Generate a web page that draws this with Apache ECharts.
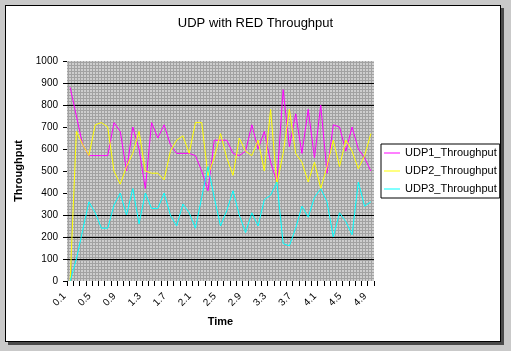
<!DOCTYPE html>
<html>
<head>
<meta charset="utf-8">
<title>UDP with RED Throughput</title>
<script src="https://cdn.jsdelivr.net/npm/echarts@6/dist/echarts.min.js"></script>
<style>
  html, body { margin: 0; padding: 0; }
  body { width: 511px; height: 351px; background: #c9c9c9; position: relative; overflow: hidden; }
  #frame { position: absolute; left: 5px; top: 5px; width: 494px; height: 335px; background: #fff; border: 1px solid #000; box-shadow: 3px 3px 0 #4a4a4a; }
  #chart { position: absolute; left: 0; top: 0; width: 511px; height: 351px; }
</style>
</head>
<body>
<div id="frame"></div>
<div id="chart"></div>
<script>
// Data
const timeLabels = ['0.1','0.2','0.3','0.4','0.5','0.6','0.7','0.8','0.9','1.0',
    '1.1','1.2','1.3','1.4','1.5','1.6','1.7','1.8','1.9','2.0',
    '2.1','2.2','2.3','2.4','2.5','2.6','2.7','2.8','2.9','3.0',
    '3.1','3.2','3.3','3.4','3.5','3.6','3.7','3.8','3.9','4.0',
    '4.1','4.2','4.3','4.4','4.5','4.6','4.7','4.8','4.9'];

const udp1 = [880, 750, 620, 570, 570, 570, 570, 720, 680, 500,
    700, 600, 420, 720, 650, 710, 620, 580, 580, 580,
    570, 500, 410, 640, 640, 640, 580, 570, 590, 710,
    600, 680, 540, 450, 870, 610, 760, 580, 780, 560,
    800, 490, 710, 700, 590, 700, 600, 560, 500];

const udp2 = [0, 680, 620, 570, 710, 720, 700, 500, 440, 520,
    580, 680, 500, 490, 490, 460, 590, 640, 660, 580,
    720, 720, 480, 560, 670, 560, 480, 650, 590, 570,
    640, 500, 780, 440, 580, 780, 580, 540, 450, 540,
    420, 520, 640, 520, 640, 590, 510, 570, 670];

const udp3 = [0, 100, 230, 360, 310, 240, 240, 345, 400, 300,
    420, 260, 400, 330, 330, 400, 300, 250, 350, 310,
    240, 380, 520, 380, 250, 320, 410, 300, 220, 310,
    250, 370, 390, 450, 170, 160, 240, 340, 290, 380,
    420, 360, 200, 310, 270, 210, 450, 340, 360];

const yTicks = [0, 100, 200, 300, 400, 500, 600, 700, 800, 900, 1000];
// only these gridlines show up in the picture
const gridValues = [100, 200, 300, 800, 900];

const font = 'Liberation Sans, Arial, sans-serif';

// Excel-style dotted plot area fill
function makePattern() {
    const c = document.createElement('canvas');
    c.width = 3;
    c.height = 3;
    const g = c.getContext('2d');
    g.fillStyle = '#cecece';
    g.fillRect(0, 0, 3, 3);
    g.fillStyle = '#a2a2a2';
    g.fillRect(2, 0, 1, 3);
    g.fillRect(0, 2, 3, 1);
    return c;
}

const chart = echarts.init(document.getElementById('chart'));

function lineSeries(name, data, color) {
    return {
        name: name,
        type: 'line',
        data: data,
        symbol: 'none',
        color: color,
        lineStyle: { width: 1, color: color },
        emphasis: { disabled: true }
    };
}

chart.setOption({
    animation: false,
    title: {
        text: 'UDP with RED Throughput',
        left: 'center',
        top: 12,
        textStyle: { fontFamily: font, fontSize: 13, fontWeight: 'normal', color: '#000' }
    },
    legend: {
        orient: 'vertical',
        left: 381,
        top: 144,
        padding: [2, 3, 2, 3],
        icon: 'rect',
        itemWidth: 16,
        itemHeight: 1,
        itemGap: 4,
        borderColor: '#000',
        borderWidth: 1,
        backgroundColor: '#fff',
        textStyle: { fontFamily: font, fontSize: 11, lineHeight: 14, color: '#000' },
        data: ['UDP1_Throughput', 'UDP2_Throughput', 'UDP3_Throughput']
    },
    grid: {
        left: 67,
        right: 137,
        top: 61,
        bottom: 70,
        containLabel: false,
        outerBoundsMode: 'none',
        show: true,
        borderWidth: 0,
        backgroundColor: { image: makePattern(), repeat: 'repeat' }
    },
    xAxis: {
        type: 'category',
        data: timeLabels,
        boundaryGap: true,
        name: 'Time',
        nameLocation: 'middle',
        nameGap: 35,
        nameTextStyle: { fontFamily: font, fontSize: 11, fontWeight: 'bold', color: '#000' },
        axisLine: { show: false },
        axisTick: { show: true, interval: 0, length: 5, lineStyle: { color: '#000' } },
        axisLabel: {
            interval: 3,
            rotate: 45,
            margin: 8,
            padding: [0, 8, 0, 0],
            fontFamily: font,
            fontSize: 10,
            color: '#000'
        },
        splitLine: { show: false }
    },
    yAxis: {
        type: 'value',
        min: 0,
        max: 1000,
        interval: 100,
        name: 'Throughput',
        nameLocation: 'middle',
        nameGap: 39,
        nameTextStyle: { fontFamily: font, fontSize: 11, fontWeight: 'bold', color: '#000' },
        axisLine: { show: false },
        axisTick: { show: true, length: 4, lineStyle: { color: '#000' } },
        axisLabel: {
            margin: 9,
            fontFamily: font,
            fontSize: 10,
            color: '#000',
            formatter: v => String(v)
        },
        splitLine: {
            show: true,
            lineStyle: {
                width: 1,
                color: yTicks.map(v => gridValues.indexOf(v) >= 0 ? '#000' : 'rgba(0,0,0,0)')
            }
        }
    },
    series: [
        lineSeries('UDP1_Throughput', udp1, '#ff00ff'),
        lineSeries('UDP2_Throughput', udp2, '#ffff00'),
        lineSeries('UDP3_Throughput', udp3, '#00ffff')
    ]
});
</script>
</body>
</html>
